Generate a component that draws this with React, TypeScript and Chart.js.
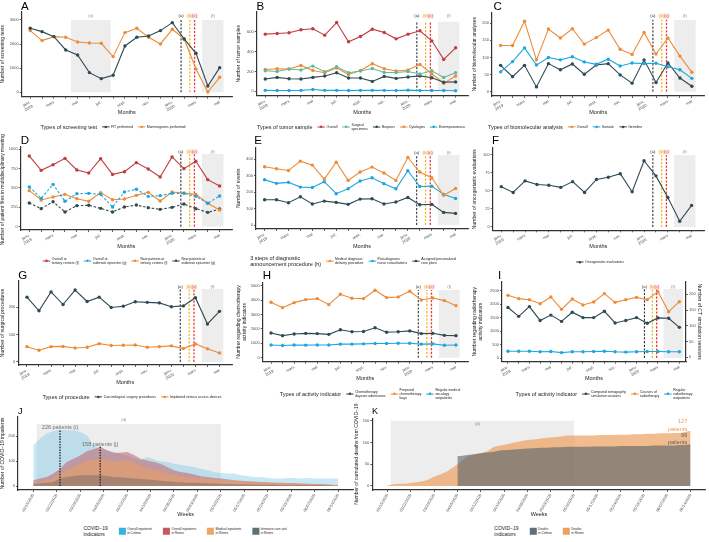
import React, { useEffect, useRef } from 'react';
import { Chart, registerables } from 'chart.js';

Chart.register(...registerables);

const FONT = "'Liberation Sans', Arial, Helvetica, sans-serif";
Chart.defaults.font.family = FONT;

// ---------- colours ----------
const C_DARK = '#2E4A52';
const C_ORANGE = '#EE8B36';
const C_BLUE = '#1CA6DF';
const C_RED = '#C13A3E';
const C_GREEN = '#62B996';
const C_AXIS = '#333333';
const C_TICK = '#4D4D4D';
const C_SHADE = '#EDEDED';
const C_ANN = '#8C8C8C';

// ---------- month axis ----------
const MONTH_INDEX = [0, 1, 2, 3, 4, 5, 6, 7, 8, 9, 10, 11, 12, 13, 14, 15, 16];
const MONTH_LABELS = ['janv.\n2019', '', 'mars', '', 'mai', '', 'juil.', '', 'sept.', '', 'nov.', '', 'janv.\n2020', '', 'mars', '', 'mai'];

// event dates in month units (0 = Jan 2019)
const EVENT_A = 12.74;
const EVENT_B = 13.48;
const EVENT_C = 13.88;
const PERIOD_E = [3.45, 6.8];
const LOCKDOWN_MONTHS = [14.52, 16.32];

// ---------- A ----------
const fitPerformed = [2655, 2517, 2310, 1756, 1549, 816, 567, 705, 1922, 2282, 2337, 2559, 2890, 2213, 1618, 263, 1023];
const mammograms = [2559, 2144, 2310, 2282, 2088, 2047, 2033, 1480, 2476, 2655, 2282, 2005, 2614, 2213, 968, 10, 622];
// ---------- B ----------
const tumorOverall = [575, 582, 589, 619, 629, 565, 692, 498, 552, 625, 592, 528, 575, 609, 508, 321, 438];
const surgicalSpecimens = [207, 200, 224, 214, 254, 197, 247, 187, 204, 230, 190, 190, 200, 174, 207, 140, 187];
const biopsies = [124, 140, 127, 124, 140, 154, 187, 134, 134, 100, 150, 130, 144, 155, 137, 92, 95];
const cytologies = [220, 227, 224, 261, 210, 187, 234, 170, 210, 278, 227, 204, 214, 271, 177, 80, 154];
const extemporaneous = [10, 8, 8, 10, 18, 10, 10, 8, 10, 10, 10, 8, 12, 8, 8, 8, 6];
// ---------- C ----------
const bioOverall = [135, 135, 206, 93, 183, 157, 184, 139, 158, 180, 124, 109, 173, 110, 157, 104, 57];
const bioSomatic = [58, 88, 128, 78, 100, 93, 102, 87, 80, 95, 75, 84, 82, 83, 73, 64, 39];
const bioGermline = [77, 44, 77, 14, 82, 64, 81, 51, 78, 82, 49, 25, 93, 27, 84, 40, 16];
// ---------- D ----------
const overallTertiary = [914, 728, 800, 883, 733, 694, 879, 676, 711, 828, 746, 643, 901, 750, 845, 608, 526];
const overallEpicenter = [513, 366, 547, 328, 427, 431, 418, 254, 448, 483, 392, 401, 431, 431, 392, 302, 397];
const newTertiary = [466, 345, 384, 418, 362, 328, 440, 349, 358, 405, 444, 332, 448, 435, 418, 302, 215];
const newEpicenter = [306, 233, 323, 190, 272, 276, 237, 190, 254, 280, 246, 224, 250, 293, 233, 185, 228];
// ---------- E ----------
const medicalDelivery = [355, 343, 332, 389, 365, 280, 383, 272, 323, 353, 317, 272, 412, 323, 288, 181, 223];
const nurseConsultations = [276, 254, 260, 231, 229, 264, 191, 221, 268, 288, 252, 221, 331, 235, 237, 187, 162];
const carePlans = [154, 154, 136, 172, 128, 146, 138, 126, 158, 160, 128, 140, 168, 124, 126, 77, 71];
// ---------- F ----------
const oncogeriatric = [56, 48, 64, 59, 58, 55, 63, 48, 66, 69, 74, 49, 92, 71, 41, 8, 30];
// ---------- G ----------
const carcinologicalSurgery = [237, 187, 256, 210, 263, 221, 237, 199, 204, 220, 218, 216, 202, 205, 235, 139, 185];
const venousDevices = [56, 43, 56, 57, 51, 54, 67, 60, 61, 62, 54, 56, 59, 49, 66, 48, 33];
// ---------- H ----------
const chemoDaycare = [1710, 1530, 1640, 1690, 1670, 1620, 1940, 1800, 1820, 2080, 1770, 1800, 1860, 1670, 1690, 1550, 1530];
const chemoBags = [3850, 3470, 3820, 4030, 4100, 3680, 4400, 4120, 4100, 4680, 4170, 4210, 4610, 4000, 4140, 3960, 3610];
const oncologyOutpatients = [880, 850, 880, 870, 880, 880, 940, 940, 960, 980, 980, 1000, 1000, 940, 960, 860, 880];
// ---------- I ----------
const ctSessions = [158, 130, 161, 117, 134, 114, 143, 126, 126, 146, 109, 117, 126, 108, 125, 124, 95];
const radioCourses = [2327, 2203, 2166, 2017, 2265, 1807, 2190, 1968, 2079, 2389, 2067, 2166, 2252, 2166, 2463, 1720, 2091];
const radioOutpatients = [250, 250, 250, 230, 240, 200, 230, 230, 240, 250, 230, 220, 230, 240, 240, 230, 230];

// ---------- J / K (days since 03/15/2020) ----------
const WEEK_TICKS = [0, 7, 14, 21, 28, 35, 42, 49, 56, 63, 70, 77, 84, 91];
const WEEK_LABELS = ['03/15/2020', '03/22/2020', '03/29/2020', '04/05/2020', '04/12/2020', '04/19/2020', '04/26/2020', '05/03/2020', '05/10/2020', '05/17/2020', '05/24/2020', '05/31/2020', '06/07/2020', '06/14/2020'];
const LOCKDOWN_DAYS = [1, 56];
const PEAK_COLMAR_DAY = 8;
const PEAK_REIMS_DAY = 20;

const covidDays = [0, 2, 4, 6, 8, 10, 12, 14, 16, 18, 20, 22, 24, 26, 28, 30, 32, 34, 36, 38, 40, 42, 44, 46, 48, 50, 52, 54, 56, 58, 60, 62, 64, 66, 68, 70, 72, 74, 76, 78, 80, 82, 84, 86, 88, 90, 91];
const inpatientsColmar = [164, 190, 211, 221, 226, 224, 224, 217, 204, 164, 150, 144, 137, 130, 123, 113, 103, 117, 107, 99, 97, 90, 86, 81, 77, 70, 63, 56, 52, 50, 50, 43, 40, 36, 36, 32, 30, 30, 32, 32, 30, 32, 30, 30, 30, 30, 30];
const inpatientsReims = [23, 30, 36, 50, 70, 97, 110, 123, 140, 148, 158, 144, 134, 134, 137, 126, 110, 103, 97, 90, 77, 63, 56, 52, 46, 39, 36, 32, 30, 27, 23, 21, 19, 18, 16, 15, 13, 13, 12, 12, 10, 9, 8, 8, 6, 4, 3];
const medicalReims = [13, 18, 23, 30, 50, 63, 77, 90, 103, 107, 110, 103, 99, 103, 103, 97, 83, 72, 67, 59, 50, 43, 39, 35, 32, 30, 29, 27, 25, 23, 21, 19, 18, 16, 15, 13, 13, 12, 11, 9, 9, 8, 7, 6, 5, 4, 3];
const icuReims = [9, 11, 13, 16, 30, 36, 40, 43, 43, 43, 43, 40, 36, 35, 33, 30, 28, 26, 24, 21, 19, 16, 15, 13, 13, 12, 11, 10, 9, 8, 7, 7, 6, 6, 5, 5, 5, 4, 4, 4, 4, 3, 3, 3, 2, 1, 1];
const deathsReims = [2, 4, 5, 6, 8, 10, 14, 21, 27, 34, 44, 56, 67, 73, 75, 80, 90, 93, 96, 100, 103, 106, 107, 109, 111, 112, 114, 116, 116, 116, 116, 116, 117, 117, 117, 118, 118, 119, 119, 120, 120, 121, 121, 122, 122, 125, 127];
const colmarDeathDays = [21, 22, 24, 26, 28, 30, 32, 34, 36, 38, 40, 42, 44, 46, 48, 50, 52, 54, 56, 58, 60, 62, 64, 66, 68, 70, 72, 74, 76, 78, 80, 82, 84, 86, 88, 90, 91];
const deathsColmar = [69, 69, 71, 73, 75, 77, 79, 82, 83, 84, 85, 86, 87, 88, 88, 89, 89, 90, 90, 90, 90, 91, 91, 91, 91, 92, 92, 92, 92, 92, 93, 93, 93, 93, 94, 95, 96];

// ---------- annotation plugin ----------
function annotationPlugin(ann: any) {
  const drawLines = (chart: any) => {
    const { ctx } = chart;
    const x = chart.scales.x;
    const y = chart.scales.y;
    ann.vlines.forEach((l: any) => {
      const px = x.getPixelForValue(l.x);
      ctx.save();
      ctx.strokeStyle = l.color;
      ctx.lineWidth = l.width;
      ctx.setLineDash(l.dash);
      ctx.beginPath();
      ctx.moveTo(px, y.getPixelForValue(0));
      ctx.lineTo(px, y.getPixelForValue(l.top));
      ctx.stroke();
      ctx.restore();
    });
  };
  return {
    id: 'annotations',
    beforeDatasetsDraw(chart: any) {
      const { ctx } = chart;
      const x = chart.scales.x;
      const y = chart.scales.y;
      ctx.save();
      ann.rects.forEach((r: any) => {
        const x0 = x.getPixelForValue(r.x0);
        const x1 = x.getPixelForValue(r.x1);
        const yt = y.getPixelForValue(r.top);
        const yb = y.getPixelForValue(0);
        ctx.fillStyle = r.fill;
        ctx.fillRect(x0, yt, x1 - x0, yb - yt);
      });
      ctx.restore();
      if (!ann.linesOnTop) drawLines(chart);
    },
    afterDatasetsDraw(chart: any) {
      const { ctx } = chart;
      const x = chart.scales.x;
      const y = chart.scales.y;
      if (ann.linesOnTop) drawLines(chart);
      ctx.save();
      ann.texts.forEach((t: any) => {
        const size = t.size || 4.3;
        ctx.font = `${size}px ${FONT}`;
        const px = x.getPixelForValue(t.x);
        const py = y.getPixelForValue(t.y);
        const align = t.align || 'center';
        if (t.bg) {
          const w = ctx.measureText(t.text).width + 1.2;
          const left = align === 'center' ? px - w / 2 : align === 'right' ? px - w : px;
          ctx.fillStyle = t.bg;
          ctx.fillRect(left, py - size * 0.55, w, size * 1.1);
        }
        ctx.fillStyle = t.color;
        ctx.textAlign = align;
        ctx.textBaseline = 'middle';
        ctx.fillText(t.text, px, py);
      });
      ctx.restore();
    },
  };
}

function monthAnnotations(top: number, labelY: number, withE: boolean) {
  const rects: any[] = [{ x0: LOCKDOWN_MONTHS[0], x1: LOCKDOWN_MONTHS[1], top, fill: C_SHADE }];
  const texts: any[] = [{ x: (LOCKDOWN_MONTHS[0] + LOCKDOWN_MONTHS[1]) / 2, y: labelY, text: '(f)', color: C_ANN }];
  if (withE) {
    rects.push({ x0: PERIOD_E[0], x1: PERIOD_E[1], top, fill: C_SHADE });
    texts.push({ x: (PERIOD_E[0] + PERIOD_E[1]) / 2, y: labelY, text: '(e)', color: C_ANN });
  }
  texts.push({ x: EVENT_A, y: labelY, text: '(a)', color: '#333333' });
  texts.push({ x: EVENT_B, y: labelY, text: '(b)', color: '#F2A516', bg: '#FDF0D8' });
  texts.push({ x: EVENT_C, y: labelY, text: '(c)', color: '#E04A3F', bg: '#FBE0DC' });
  const vlines = [
    { x: EVENT_A, top, color: '#333333', dash: [2.2, 1.5], width: 1.1 },
    { x: EVENT_B, top, color: '#F7B21E', dash: [2.2, 1.5], width: 1.2 },
    { x: EVENT_C, top, color: '#EA3A36', dash: [2.2, 1.5], width: 1.3 },
  ];
  return { rects, texts, vlines, linesOnTop: false };
}

function yScale(position: string, min: number, max: number, ticks: number[], title: any, width: number) {
  return {
    type: 'linear',
    position,
    min,
    max,
    afterBuildTicks: (s: any) => {
      s.ticks = ticks.map((v) => ({ value: v }));
    },
    afterFit: (s: any) => {
      s.width = width;
    },
    ticks: { font: { size: 4.0 }, color: C_TICK, padding: 1, callback: (v: any) => String(v) },
    grid: { drawOnChartArea: false, tickLength: 2, color: C_AXIS, lineWidth: 0.8 },
    border: { color: C_AXIS, width: 1.2 },
    title: { display: true, text: title, font: { size: 5 }, color: '#1A1A1A', padding: { top: 0, bottom: 0 } },
  };
}

function xScaleBase(min: number, max: number, tickVals: number[], labelFor: (v: number) => any, rotation: number, height: number, title: string, fontSize: number) {
  return {
    type: 'linear',
    min,
    max,
    afterBuildTicks: (s: any) => {
      s.ticks = tickVals.map((v) => ({ value: v }));
    },
    afterFit: (s: any) => {
      s.height = height;
    },
    ticks: {
      autoSkip: false,
      minRotation: rotation,
      maxRotation: rotation,
      font: { size: fontSize },
      color: C_TICK,
      padding: 1,
      callback: (v: any) => labelFor(v),
    },
    grid: { drawOnChartArea: false, tickLength: 2, color: C_AXIS, lineWidth: 0.8 },
    border: { color: C_AXIS, width: 1.2 },
    title: { display: true, text: title, font: { size: 5.5 }, color: '#1A1A1A', padding: { top: 0, bottom: 0 } },
  };
}

function monthLabel(v: number) {
  const l = MONTH_LABELS[Math.round(v)] || '';
  return l.indexOf('\n') >= 0 ? l.split('\n') : l;
}

function buildMonthConfig(p: any) {
  const yW = p.plot.left - p.box.left;
  const xH = p.box.top + p.box.height - p.plot.bottom;
  const padTop = p.plot.top - p.box.top;
  const rightGap = p.box.left + p.box.width - p.plot.right;
  const datasets = p.series.map((s: any) => ({
    label: s.label,
    data: s.data.map((v: number, i: number) => ({ x: MONTH_INDEX[i], y: v })),
    borderColor: s.color,
    backgroundColor: s.color,
    pointBackgroundColor: s.color,
    pointBorderWidth: 0,
    pointRadius: 1.7,
    borderWidth: 1.1,
    borderDash: s.dash || [],
    tension: 0,
    fill: false,
    yAxisID: s.axis || 'y',
  }));
  const xr = p.xRange || [-0.72, 17.04];
  const scales: any = {
    x: xScaleBase(xr[0], xr[1], MONTH_INDEX, monthLabel, 30, xH, 'Months', 4.0),
    y: yScale('left', p.yMin, p.yMax, p.yTicks, p.yTitle, yW),
  };
  if (p.y1) scales.y1 = yScale('right', p.y1.min, p.y1.max, p.y1.ticks, p.y1.title, rightGap);
  return {
    type: 'line',
    data: { datasets },
    options: {
      responsive: false,
      animation: false,
      events: [],
      layout: { padding: { top: padTop, right: p.y1 ? 0 : rightGap, left: 0, bottom: 0 } },
      plugins: { legend: { display: false }, tooltip: { enabled: false } },
      scales,
    },
    plugins: [annotationPlugin(monthAnnotations(p.annTop, p.annLabelY, !!p.withE))],
  };
}

function weekLabel(v: number) {
  const i = WEEK_TICKS.indexOf(Math.round(v));
  return i >= 0 ? WEEK_LABELS[i] : '';
}

function buildAreaConfig(p: any) {
  const yW = p.plot.left - p.box.left;
  const xH = p.box.top + p.box.height - p.plot.bottom;
  const padTop = p.plot.top - p.box.top;
  const rightGap = p.box.left + p.box.width - p.plot.right;
  const datasets = p.series.map((s: any) => ({
    label: s.label,
    data: s.data.map((v: number, i: number) => ({ x: s.days[i], y: v })),
    borderColor: 'rgba(0,0,0,0)',
    backgroundColor: s.fill,
    borderWidth: 0,
    pointRadius: 0,
    tension: 0,
    fill: 'origin',
  }));
  return {
    type: 'line',
    data: { datasets },
    options: {
      responsive: false,
      animation: false,
      events: [],
      layout: { padding: { top: padTop, right: rightGap, left: 0, bottom: 0 } },
      plugins: { legend: { display: false }, tooltip: { enabled: false } },
      scales: {
        x: xScaleBase(-4.55, 95.55, WEEK_TICKS, weekLabel, 60, xH, 'Weeks', 4.0),
        y: yScale('left', p.yMin, p.yMax, p.yTicks, p.yTitle, yW),
      },
    },
    plugins: [annotationPlugin(p.ann)],
  };
}

// ---------- panel specs ----------
const MONTH_PANELS: any[] = [
  {
    id: 'A', box: { left: 0, top: 0, width: 236, height: 116 }, plot: { left: 21.7, top: 11.7, right: 232, bottom: 96.7 },
    yMin: -183, yMax: 3344, yTicks: [0, 1000, 2000, 3000], yTitle: 'Number of screening tests',
    annTop: 3000, annLabelY: 3170, withE: true,
    series: [
      { label: 'FIT performed', data: fitPerformed, color: C_DARK },
      { label: 'Mammograms performed', data: mammograms, color: C_ORANGE },
    ],
  },
  {
    id: 'B', box: { left: 236, top: 0, width: 236, height: 116 }, plot: { left: 256.7, top: 11.7, right: 468, bottom: 95.7 },
    yMin: -44, yMax: 801, yTicks: [0, 200, 400, 600], yTitle: 'Number of tumor samples',
    annTop: 700, annLabelY: 756,
    series: [
      { label: 'Overall', data: tumorOverall, color: C_RED },
      { label: 'Surgical specimens', data: surgicalSpecimens, color: C_GREEN },
      { label: 'Biopsies', data: biopsies, color: C_DARK },
      { label: 'Cytologies', data: cytologies, color: C_ORANGE },
      { label: 'Extemporaneous', data: extemporaneous, color: C_BLUE },
    ],
  },
  {
    id: 'C', box: { left: 472, top: 0, width: 237, height: 116 }, plot: { left: 492, top: 12.3, right: 704.3, bottom: 96 },
    yMin: -12.6, yMax: 232, yTicks: [0, 50, 100, 150, 200], yTitle: 'Number of biomolecular analyses',
    annTop: 210, annLabelY: 221,
    series: [
      { label: 'Overall', data: bioOverall, color: C_ORANGE },
      { label: 'Somatic', data: bioSomatic, color: C_BLUE },
      { label: 'Germline', data: bioGermline, color: C_DARK },
    ],
  },
  {
    id: 'D', box: { left: 0, top: 134, width: 236, height: 116 }, plot: { left: 20.7, top: 147, right: 232, bottom: 230 },
    yMin: -43, yMax: 1030, yTicks: [0, 250, 500, 750, 1000], yTitle: 'Number of patient files in multidisciplinary meetings',
    annTop: 940, annLabelY: 970,
    series: [
      { label: 'Overall at tertiary centers (f)', data: overallTertiary, color: C_RED },
      { label: 'Overall at outbreak epicenter (g)', data: overallEpicenter, color: C_BLUE, dash: [2.5, 1.8] },
      { label: 'New patients at tertiary centers (f)', data: newTertiary, color: C_ORANGE },
      { label: 'New patients at outbreak epicenter (g)', data: newEpicenter, color: C_DARK, dash: [2.5, 1.8] },
    ],
  },
  {
    id: 'E', box: { left: 236, top: 134, width: 236, height: 116 }, plot: { left: 256, top: 147.7, right: 468, bottom: 229 },
    yMin: -24, yMax: 471, yTicks: [0, 100, 200, 300, 400], yTitle: 'Number of events',
    annTop: 426, annLabelY: 440,
    series: [
      { label: 'Medical diagnosis delivery procedure', data: medicalDelivery, color: C_ORANGE },
      { label: 'Post-diagnosis nurse consultations', data: nurseConsultations, color: C_BLUE },
      { label: 'Assigned personalized care plans', data: carePlans, color: C_DARK },
    ],
  },
  {
    id: 'F', box: { left: 472, top: 134, width: 237, height: 116 }, plot: { left: 492.7, top: 148, right: 704, bottom: 230.3 },
    yMin: -4.6, yMax: 109.7, yTicks: [0, 25, 50, 75, 100], yTitle: 'Number of oncogeriatric evaluations',
    annTop: 100, annLabelY: 104,
    series: [{ label: 'Oncogeriatric evaluations', data: oncogeriatric, color: C_DARK }],
  },
  {
    id: 'G', box: { left: 0, top: 268, width: 236, height: 118 }, plot: { left: 18.3, top: 281, right: 232, bottom: 365 },
    yMin: -11, yMax: 296, yTicks: [0, 100, 200], yTitle: 'Number of surgical procedures',
    annTop: 267, annLabelY: 274,
    series: [
      { label: 'Carcinological surgery procedures', data: carcinologicalSurgery, color: C_DARK },
      { label: 'Implanted venous access devices', data: venousDevices, color: C_ORANGE },
    ],
  },
  {
    id: 'H', box: { left: 236, top: 268, width: 236, height: 114 }, plot: { left: 262.7, top: 282.3, right: 468, bottom: 361.7 },
    yMin: -278, yMax: 5230, yTicks: [0, 1000, 2000, 3000, 4000, 5000], yTitle: ['Number regarding chemotherapy', 'activity indicators'],
    annTop: 4700, annLabelY: 4910,
    series: [
      { label: 'Chemotherapy daycare admissions', data: chemoDaycare, color: C_DARK },
      { label: 'Prepared chemotherapy bags', data: chemoBags, color: C_ORANGE },
      { label: 'Regular medical oncology outpatients', data: oncologyOutpatients, color: C_BLUE },
    ],
  },
  {
    id: 'I', box: { left: 472, top: 268, width: 230, height: 114 }, plot: { left: 502, top: 281.7, right: 686, bottom: 361.7 },
    xRange: [-0.56, 16.62],
    yMin: -137, yMax: 2833, yTicks: [0, 500, 1000, 1500, 2000, 2500], yTitle: ['Number regarding radiotherapy', 'activity indicators'],
    y1: { min: -14, max: 240, ticks: [0, 50, 100, 150, 200], title: 'Number of CT simulation sessions' },
    annTop: 2560, annLabelY: 2636,
    series: [
      { label: 'Computed tomography simulation sessions', data: ctSessions, color: C_DARK, axis: 'y1' },
      { label: 'Courses of radiotherapy', data: radioCourses, color: C_ORANGE },
      { label: 'Regular radiotherapy outpatients', data: radioOutpatients, color: C_BLUE },
    ],
  },
];

const J_PANEL = {
  box: { left: 0, top: 400, width: 354, height: 118 }, plot: { left: 18, top: 416.7, right: 353.3, bottom: 490 },
  yMin: -16, yMax: 279, yTicks: [0, 100, 200], yTitle: 'Number of COVID\u221219 inpatients',
  series: [
    { label: 'Intensive care unit in Reims', days: covidDays, data: icuReims, fill: 'rgba(85,92,98,0.38)' },
    { label: 'Medical inpatients in Reims', days: covidDays, data: medicalReims, fill: 'rgba(236,156,92,0.55)' },
    { label: 'Overall inpatients in Reims', days: covidDays, data: inpatientsReims, fill: 'rgba(192,86,92,0.5)' },
    { label: 'Overall inpatients in Colmar', days: covidDays, data: inpatientsColmar, fill: 'rgba(125,200,230,0.42)' },
  ],
  ann: {
    rects: [{ x0: LOCKDOWN_DAYS[0], x1: LOCKDOWN_DAYS[1], top: 250, fill: C_SHADE }],
    vlines: [
      { x: PEAK_COLMAR_DAY, top: 226, color: '#222222', dash: [1.5, 1.2], width: 1.3 },
      { x: PEAK_REIMS_DAY, top: 158, color: '#222222', dash: [1.5, 1.2], width: 1.3 },
    ],
    texts: [
      { x: 27, y: 265, text: '(d)', color: C_ANN, size: 4.2 },
      { x: PEAK_COLMAR_DAY, y: 237, text: '226 patients (i)', color: '#6E6E6E', size: 5.5 },
      { x: PEAK_REIMS_DAY, y: 169, text: '158 patients (j)', color: '#6E6E6E', size: 5.5 },
    ],
    linesOnTop: true,
  },
};

const K_PANEL = {
  box: { left: 354, top: 400, width: 355, height: 118 }, plot: { left: 372.3, top: 418.3, right: 705.7, bottom: 490 },
  yMin: -9.2, yMax: 155.6, yTicks: [0, 50, 100, 150], yTitle: 'Number of cumulated deaths from COVID\u221219',
  series: [
    { label: 'Deaths in Colmar', days: colmarDeathDays, data: deathsColmar, fill: 'rgba(70,90,100,0.55)' },
    { label: 'Deaths in Reims', days: covidDays, data: deathsReims, fill: 'rgba(236,160,95,0.7)' },
  ],
  ann: {
    rects: [{ x0: LOCKDOWN_DAYS[0], x1: LOCKDOWN_DAYS[1], top: 150, fill: C_SHADE }],
    vlines: [],
    texts: [
      { x: 27, y: 142, text: '(d)', color: C_ANN, size: 4.2 },
      { x: 90, y: 148, text: '127', color: '#E8995A', size: 5.5, align: 'right' },
      { x: 90, y: 131, text: 'patients', color: '#E8995A', size: 5.5, align: 'right' },
      { x: 90, y: 117, text: '96', color: '#55646B', size: 5.5, align: 'right' },
      { x: 90, y: 100, text: 'patients', color: '#55646B', size: 5.5, align: 'right' },
    ],
    linesOnTop: true,
  },
};

// ---------- letters & legends ----------
const LETTERS = [
  { t: 'A', x: 21, y: 0.5, s: 11.5 }, { t: 'B', x: 256.5, y: 0.5, s: 11.5 }, { t: 'C', x: 493.5, y: 0.5, s: 11.5 },
  { t: 'D', x: 20.7, y: 135.3, s: 11.5 }, { t: 'E', x: 254.3, y: 135.3, s: 11.5 }, { t: 'F', x: 492, y: 135.3, s: 11.5 },
  { t: 'G', x: 18.3, y: 270.3, s: 11.5 }, { t: 'H', x: 262.7, y: 270.3, s: 11.5 }, { t: 'I', x: 498, y: 270.3, s: 11.5 },
  { t: 'J', x: 18, y: 406.8, s: 9 }, { t: 'K', x: 372, y: 406.8, s: 9 },
];

const LEGENDS: any[] = [
  { cx: 113, cy: 127, title: 'Types of screening test', items: [
    { label: 'FIT performed', color: C_DARK, kind: 'line' },
    { label: 'Mammograms performed', color: C_ORANGE, kind: 'line' }] },
  { cx: 361, cy: 127, title: 'Types of tumor sample', items: [
    { label: 'Overall', color: C_RED, kind: 'line' },
    { label: 'Surgical\nspecimens', color: C_GREEN, kind: 'line' },
    { label: 'Biopsies', color: C_DARK, kind: 'line' },
    { label: 'Cytologies', color: C_ORANGE, kind: 'line' },
    { label: 'Extemporaneous', color: C_BLUE, kind: 'line' }] },
  { cx: 565, cy: 127, title: 'Types of biomolecular analysis', items: [
    { label: 'Overall', color: C_ORANGE, kind: 'line' },
    { label: 'Somatic', color: C_BLUE, kind: 'line' },
    { label: 'Germline', color: C_DARK, kind: 'line' }] },
  { cx: 129, cy: 261, title: '', items: [
    { label: 'Overall at\ntertiary centers (f)', color: C_RED, kind: 'line' },
    { label: 'Overall at\noutbreak epicenter (g)', color: C_BLUE, kind: 'dash' },
    { label: 'New patients at\ntertiary centers (f)', color: C_ORANGE, kind: 'line' },
    { label: 'New patients at\noutbreak epicenter (g)', color: C_DARK, kind: 'dash' }] },
  { cx: 353, cy: 261, title: '3 steps of diagnostic\nannouncement procedure (h)', items: [
    { label: 'Medical diagnosis\ndelivery procedure', color: C_ORANGE, kind: 'line' },
    { label: 'Post-diagnosis\nnurse consultations', color: C_BLUE, kind: 'line' },
    { label: 'Assigned personalized\ncare plans', color: C_DARK, kind: 'line' }] },
  { cx: 600, cy: 262, title: '', items: [
    { label: 'Oncogeriatric evaluations', color: C_DARK, kind: 'line' }] },
  { cx: 132, cy: 397, title: 'Types of procedure', items: [
    { label: 'Carcinological surgery procedures', color: C_DARK, kind: 'line' },
    { label: 'Implanted venous access devices', color: C_ORANGE, kind: 'line' }] },
  { cx: 370, cy: 394, title: 'Types of activity indicator', items: [
    { label: 'Chemotherapy\ndaycare admissions', color: C_DARK, kind: 'line' },
    { label: 'Prepared\nchemotherapy\nbags', color: C_ORANGE, kind: 'line' },
    { label: 'Regular medical\noncology\noutpatients', color: C_BLUE, kind: 'line' }] },
  { cx: 604, cy: 394, title: 'Types of activity indicator', items: [
    { label: 'Computed tomography\nsimulation sessions', color: C_DARK, kind: 'line' },
    { label: 'Courses of\nradiotherapy', color: C_ORANGE, kind: 'line' },
    { label: 'Regular\nradiotherapy\noutpatients', color: C_BLUE, kind: 'line' }] },
  { cx: 185, cy: 531, title: 'COVID\u221219\nindicators', small: true, items: [
    { label: 'Overall inpatients\nin Colmar', color: '#36B2E3', kind: 'box' },
    { label: 'Overall inpatients\nin Reims', color: '#C4595E', kind: 'box' },
    { label: 'Medical inpatients\nin Reims', color: '#ECA565', kind: 'box' },
    { label: 'Intensive care unit\nin Reims', color: '#5E7078', kind: 'box' }] },
  { cx: 539, cy: 531, title: 'COVID\u221219\nindicators', small: true, items: [
    { label: 'Deaths\nin Colmar', color: '#5E7078', kind: 'box' },
    { label: 'Deaths\nin Reims', color: '#E9A261', kind: 'box' }] },
];

// ---------- components ----------
function ChartCanvas({ box, makeConfig }: any) {
  const ref = useRef<HTMLCanvasElement | null>(null);
  useEffect(() => {
    const chart = new Chart(ref.current as HTMLCanvasElement, makeConfig());
    return () => chart.destroy();
  }, []);
  return (
    <canvas
      ref={ref}
      width={box.width}
      height={box.height}
      style={{ position: 'absolute', left: box.left, top: box.top, width: box.width, height: box.height }}
    />
  );
}

// Legends are laid out at double size then scaled by 0.5 (avoids browser minimum font sizes).
function LegendKey({ item }: any) {
  if (item.kind === 'box') {
    return <div style={{ width: 14, height: 14, background: item.color, flex: '0 0 auto' }} />;
  }
  return (
    <div style={{ position: 'relative', width: 15, height: 10, flex: '0 0 auto' }}>
      <div style={{ position: 'absolute', left: 0, right: 0, top: 4, height: 0, borderTop: `2px ${item.kind === 'dash' ? 'dashed' : 'solid'} ${item.color}` }} />
      <div style={{ position: 'absolute', left: 5, top: 2.5, width: 5, height: 5, borderRadius: '50%', background: item.color }} />
    </div>
  );
}

function Legend({ spec }: any) {
  const titleSize = spec.small ? 10 : 11;
  const labelSize = spec.small ? 6.4 : 6.9;
  return (
    <div
      style={{
        position: 'absolute', left: spec.cx, top: spec.cy,
        transform: 'translate(-50%, -50%) scale(0.5)', transformOrigin: '50% 50%',
        display: 'flex', alignItems: 'center', gap: spec.small ? 22 : 10, whiteSpace: 'nowrap', fontFamily: FONT, color: '#1A1A1A',
      }}
    >
      {spec.title ? <div style={{ fontSize: titleSize, lineHeight: 1.15, whiteSpace: 'pre' }}>{spec.title}</div> : null}
      {spec.items.map((it: any) => (
        <div key={it.label} style={{ display: 'flex', alignItems: 'center', gap: 3 }}>
          <LegendKey item={it} />
          <div style={{ fontSize: labelSize, lineHeight: 1.15, whiteSpace: 'pre' }}>{it.label}</div>
        </div>
      ))}
    </div>
  );
}

export default function App() {
  return (
    <div style={{ position: 'absolute', left: 0, top: 0, width: 709, height: 542, background: '#FFFFFF', overflow: 'hidden', fontFamily: FONT }}>
      {MONTH_PANELS.map((p) => (
        <ChartCanvas key={p.id} box={p.box} makeConfig={() => buildMonthConfig(p)} />
      ))}
      <ChartCanvas box={J_PANEL.box} makeConfig={() => buildAreaConfig(J_PANEL)} />
      <ChartCanvas box={K_PANEL.box} makeConfig={() => buildAreaConfig(K_PANEL)} />
      {LETTERS.map((l) => (
        <div key={l.t} style={{ position: 'absolute', left: l.x, top: l.y, fontSize: l.s, lineHeight: 1, color: '#000', fontFamily: FONT }}>{l.t}</div>
      ))}
      {LEGENDS.map((lg, i) => (
        <Legend key={i} spec={lg} />
      ))}
    </div>
  );
}
